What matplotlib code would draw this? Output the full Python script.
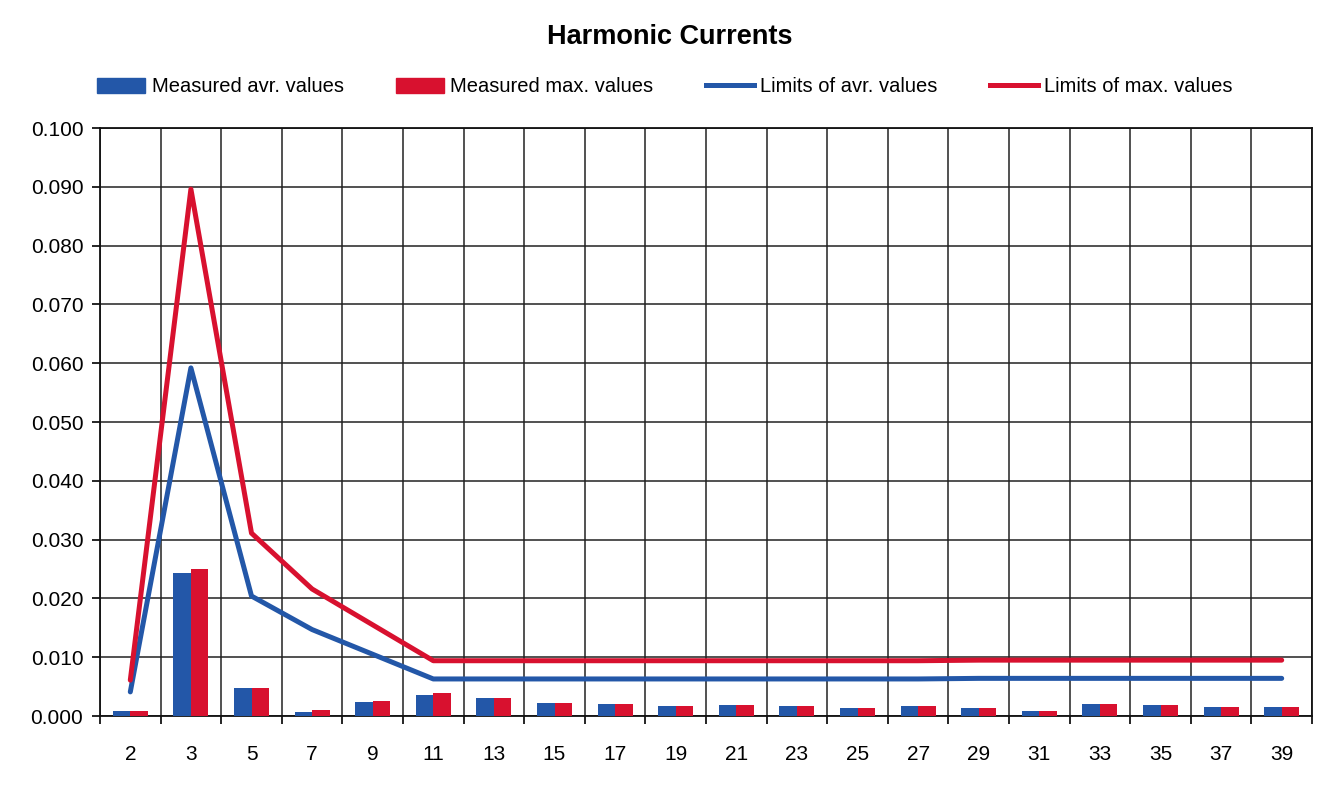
import numpy as np
import matplotlib.pyplot as plt
from matplotlib.patches import Patch
from matplotlib.lines import Line2D

plt.rcParams['font.family'] = ['Liberation Sans', 'DejaVu Sans']

harmonics = ['2', '3', '5', '7', '9', '11', '13', '15', '17', '19',
             '21', '23', '25', '27', '29', '31', '33', '35', '37', '39']
meas_avr = [0.0008, 0.0243, 0.0048, 0.0006, 0.0024, 0.0036, 0.0030, 0.0022, 0.0020, 0.0017,
            0.0019, 0.0017, 0.0014, 0.0017, 0.0014, 0.0008, 0.0021, 0.0018, 0.0016, 0.0015]
meas_max = [0.0008, 0.0250, 0.0048, 0.0010, 0.0025, 0.0039, 0.0030, 0.0022, 0.0020, 0.0017,
            0.0019, 0.0017, 0.0014, 0.0017, 0.0014, 0.0009, 0.0021, 0.0018, 0.0016, 0.0015]
lim_avr = [0.0041, 0.0592, 0.0204, 0.0147, 0.0105, 0.0063, 0.0063, 0.0063, 0.0063, 0.0063,
           0.0063, 0.0063, 0.0063, 0.0063, 0.0064, 0.0064, 0.0064, 0.0064, 0.0064, 0.0064]
lim_max = [0.0061, 0.0896, 0.0311, 0.0216, 0.0155, 0.0094, 0.0094, 0.0094, 0.0094, 0.0094,
           0.0094, 0.0094, 0.0094, 0.0094, 0.0095, 0.0095, 0.0095, 0.0095, 0.0095, 0.0095]

blue = '#2357a8'
red = '#d8112f'

fig = plt.figure(figsize=(13.37, 7.85), dpi=100)
ax = fig.add_axes([100/1337, 1 - 716/785, 1212/1337, 588/785])

x = np.arange(len(harmonics))
w = 0.29
ax.bar(x - w/2, meas_avr, width=w, color=blue, zorder=3)
ax.bar(x + w/2, meas_max, width=w, color=red, zorder=3)
ax.plot(x, lim_avr, color=blue, lw=3.6, zorder=4, solid_capstyle='round')
ax.plot(x, lim_max, color=red, lw=3.6, zorder=4, solid_capstyle='round')

ax.set_xlim(-0.5, len(harmonics) - 0.5)
ax.set_ylim(0, 0.1)
ax.set_yticks(np.arange(0, 0.1001, 0.01))
ax.set_yticklabels([f'{v:.3f}' for v in np.arange(0, 0.1001, 0.01)])
ax.set_xticks(x)
ax.set_xticklabels(harmonics)
ax.set_xticks(np.arange(-0.5, len(harmonics)), minor=True)
ax.tick_params(axis='x', which='major', length=0, pad=21, labelsize=15)
ax.tick_params(axis='x', which='minor', length=6, width=1.2, direction='out')
ax.tick_params(axis='y', length=6, width=1.2, labelsize=15, pad=6)
ax.grid(True, axis='y', color='#222222', lw=1.1, zorder=1)
ax.grid(True, axis='x', which='minor', color='#222222', lw=1.1, zorder=1)
for s in ax.spines.values():
    s.set_color('#111111')
    s.set_linewidth(1.3)

fig.text(670/1337, 1 - 37/785, 'Harmonic Currents', ha='center', va='center',
         fontsize=19.5, fontweight='bold')

handles = [Patch(color=blue), Patch(color=red),
           Line2D([], [], color=blue, lw=3.6), Line2D([], [], color=red, lw=3.6)]
labels = ['Measured avr. values', 'Measured max. values',
          'Limits of avr. values', 'Limits of max. values']
fig.legend(handles, labels, loc='center left', ncol=4, frameon=False, fontsize=14.5,
           bbox_to_anchor=(79/1337, 1 - 87/785), columnspacing=2.6,
           handlelength=2.4, handletextpad=0.3, handleheight=0.8)

fig.savefig('out.png', dpi=100)
